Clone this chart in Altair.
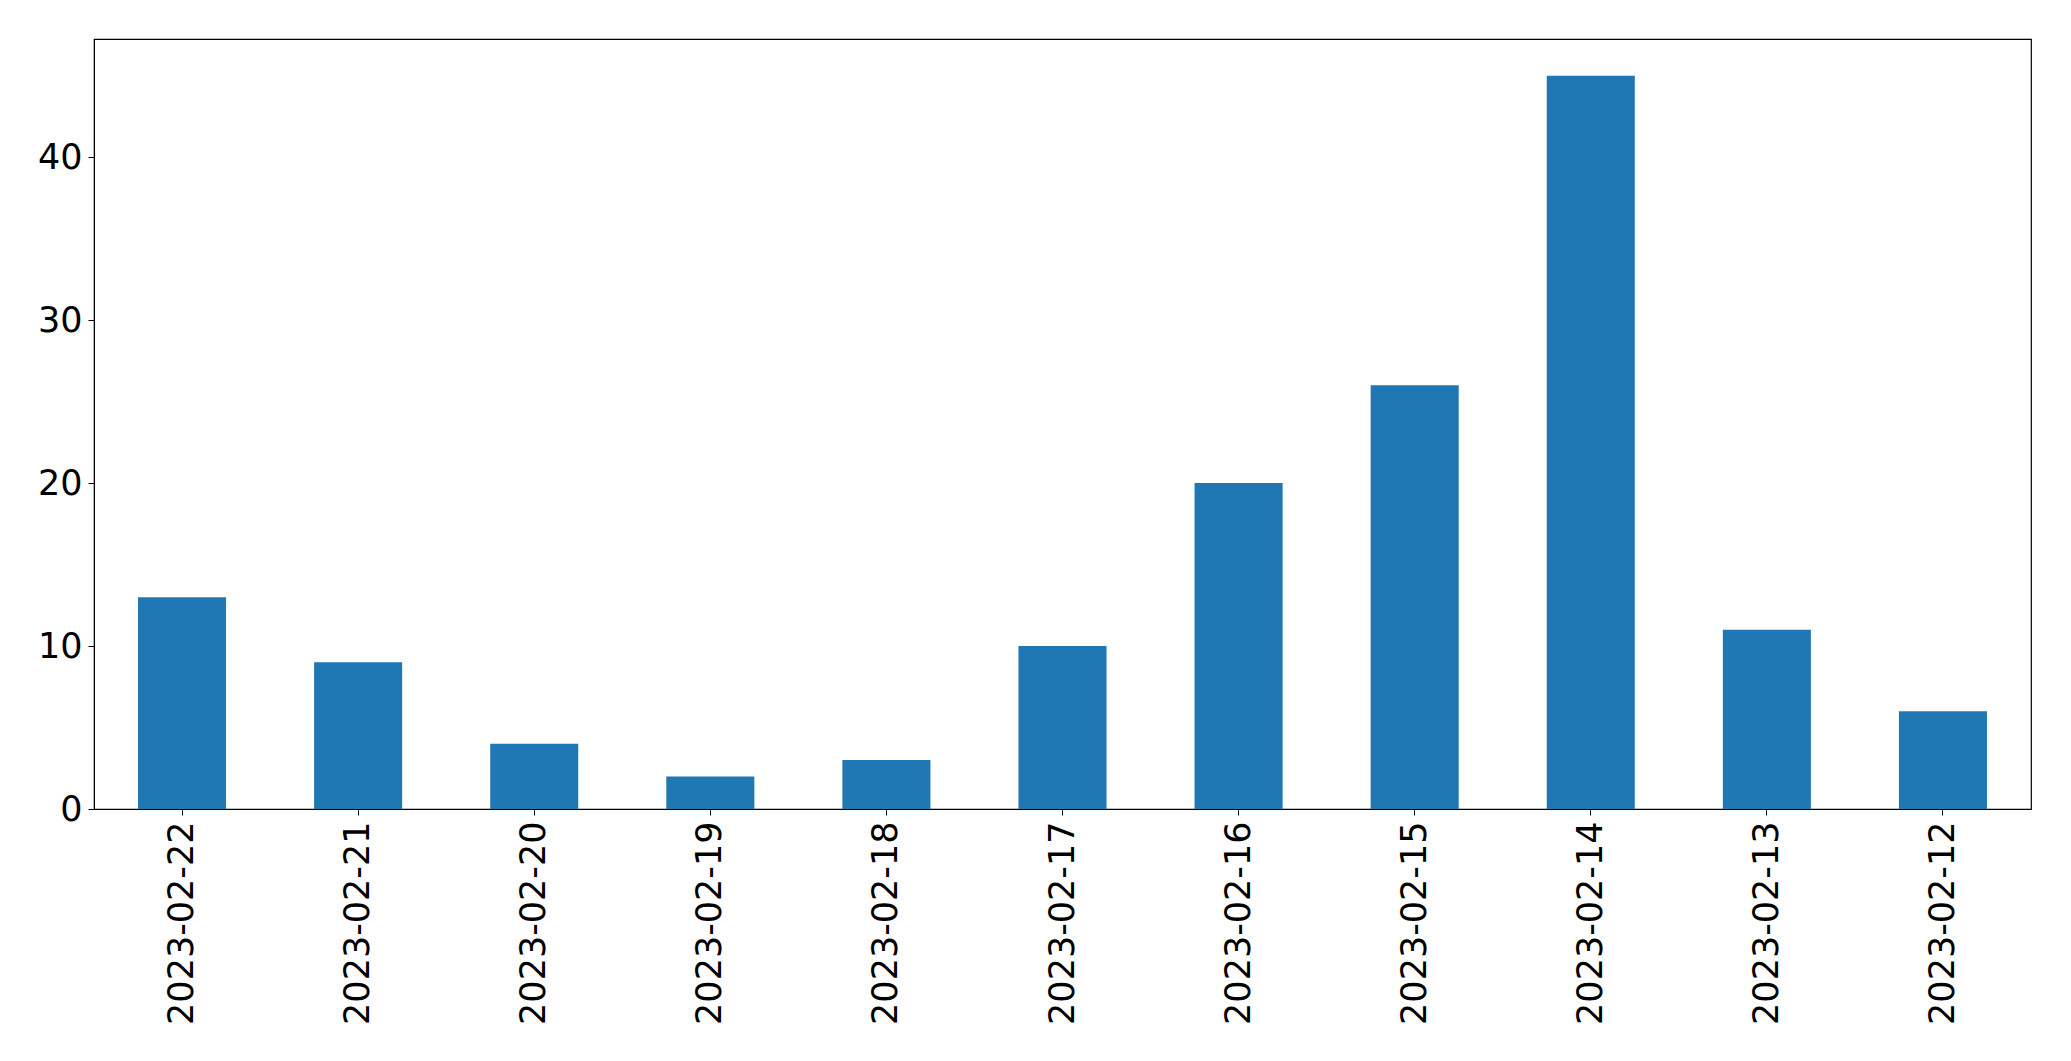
import altair as alt
import pandas as pd

dates = ["2023-02-22", "2023-02-21", "2023-02-20", "2023-02-19", "2023-02-18",
         "2023-02-17", "2023-02-16", "2023-02-15", "2023-02-14", "2023-02-13", "2023-02-12"]
counts = [13, 9, 4, 2, 3, 10, 20, 26, 45, 11, 6]

df = pd.DataFrame({"date": dates, "count": counts})

chart = alt.Chart(df).mark_bar(color="#1f77b4").encode(
    x=alt.X("date:N", sort=dates, title=None,
            scale=alt.Scale(paddingInner=0.5, paddingOuter=0.25),
            axis=alt.Axis(labelAngle=-90, labelFontSize=35, labelFont="DejaVu Sans",
                          labelColor="black", tickColor="black", domainColor="black",
                          tickSize=6, labelPadding=6, labelAlign="right", labelBaseline="middle",
                          labelLimit=1000)),
    y=alt.Y("count:Q", title=None,
            scale=alt.Scale(domain=[0, 47.25], nice=False, zero=True),
            axis=alt.Axis(values=[0, 10, 20, 30, 40], grid=False, labelFontSize=35,
                          labelFont="DejaVu Sans", labelColor="black", tickColor="black",
                          domainColor="black", tickSize=6, labelPadding=6)),
).properties(
    width=1937, height=770,
    background="white",
    autosize=alt.AutoSizeParams(type="none"),
    padding={"left": 94, "top": 39, "right": 40, "bottom": 252},
).configure_view(stroke="black", strokeWidth=1.2)

chart.save("out.html", embed_options={"renderer": "svg", "actions": False})
